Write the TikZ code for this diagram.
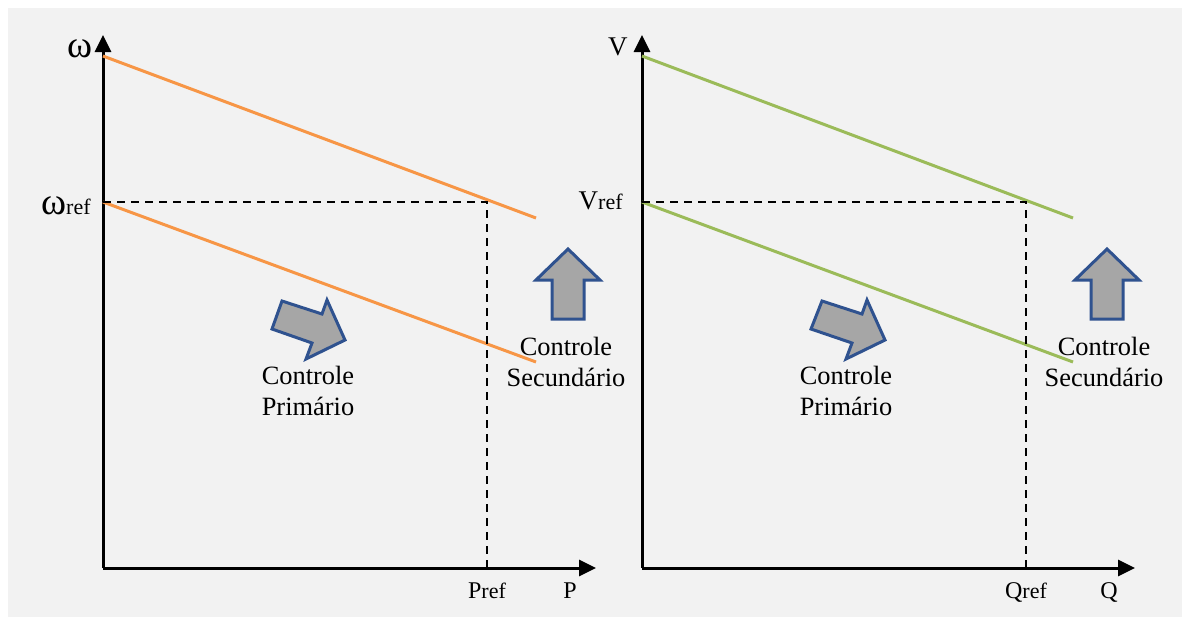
\documentclass[tikz,border=0pt]{standalone}
\usepackage{fontspec}
\setmainfont{Liberation Serif}
\usetikzlibrary{arrows.meta}

\definecolor{droopOrange}{RGB}{247,150,70}
\definecolor{droopGreen}{RGB}{155,187,89}
\definecolor{blockFill}{RGB}{166,166,166}
\definecolor{blockEdge}{RGB}{47,82,143}
\definecolor{panelGray}{RGB}{242,242,242}

\newcommand{\refsub}{{\fontsize{11}{11}\selectfont ref}}

\begin{document}
\begin{tikzpicture}[x=0.5pt, y=-0.5pt, font=\fontsize{13.2}{15.5}\selectfont,
    axis/.style={line width=1.5pt, -{Triangle[length=8.5pt,width=8pt]}},
    guide/.style={line width=0.7pt, dash pattern=on 4pt off 3pt},
    droop/.style={line width=1.5pt},
    blockarrow/.style={fill=blockFill, draw=blockEdge, line width=1.5pt, line join=miter},
    axlabel/.style={inner sep=0pt, font=\fontsize{12}{12}\selectfont},
    caption/.style={align=center, inner sep=0pt}]

    \useasboundingbox (0,0) rectangle (1182,617);
    \fill[white] (0,0) rectangle (1182,617);
    \fill[panelGray] (8,8) rectangle (1182,617);

    % P - omega droop
    \coordinate (o1) at (103,568);
    \coordinate (ytip1) at (103,35);
    \coordinate (xtip1) at (596,568);
    \draw[axis] (o1) -- (ytip1);
    \draw[axis] (o1) -- (xtip1);

    \coordinate (w0) at (103,56);
    \coordinate (w0end) at (536,218);
    \coordinate (wref) at (103,202);
    \coordinate (wrefend) at (536,362);
    \coordinate (wcorner) at (487,202);
    \coordinate (pfoot) at (487,568);
    \draw[droop, droopOrange] (w0) -- (w0end);
    \draw[droop, droopOrange] (wref) -- (wrefend);
    \draw[guide] (wref) -- (wcorner) -- (pfoot);

    \node[axlabel, anchor=east, font=\fontsize{19}{19}\selectfont] (lw) at (93,49) {ω};
    \node[axlabel, anchor=base east] (lwref) at (91,214) {{\fontsize{19}{19}\selectfont ω}\refsub};
    \node[axlabel, anchor=base] (lpref) at (487,598) {P\refsub};
    \node[axlabel, anchor=base] (lp) at (570,598) {P};

    \draw[blockarrow] (282,301) -- (322,314) -- (327,300) -- (345,340) -- (306,359) -- (312,343) -- (272,329) -- cycle;
    \draw[blockarrow] (568,249) -- (600,280) -- (584,280) -- (584,319) -- (552,319) -- (552,280) -- (536,280) -- cycle;
    \node[caption] (prim1) at (308,391) {Controle\\Primário};
    \node[caption] (sec1) at (566,362) {Controle\\Secundário};

    % Q - V droop
    \coordinate (o2) at (642,568);
    \coordinate (ytip2) at (642,35);
    \coordinate (xtip2) at (1135,568);
    \draw[axis] (o2) -- (ytip2);
    \draw[axis] (o2) -- (xtip2);

    \coordinate (v0) at (642,56);
    \coordinate (v0end) at (1073,218);
    \coordinate (vref) at (642,202);
    \coordinate (vrefend) at (1073,362);
    \coordinate (vcorner) at (1026,202);
    \coordinate (qfoot) at (1026,568);
    \draw[droop, droopGreen] (v0) -- (v0end);
    \draw[droop, droopGreen] (vref) -- (vrefend);
    \draw[guide] (vref) -- (vcorner) -- (qfoot);

    \node[axlabel, anchor=base east, font=\fontsize{13.5}{13.5}\selectfont] (lv) at (628,55) {V};
    \node[axlabel, anchor=base east] (lvref) at (623,209) {{\fontsize{13.5}{13.5}\selectfont V}\refsub};
    \node[axlabel, anchor=base] (lqref) at (1026,598) {Q\refsub};
    \node[axlabel, anchor=base] (lq) at (1109,598) {Q};

    \draw[blockarrow] (822,301) -- (862,314) -- (867,300) -- (885,340) -- (846,359) -- (852,343) -- (811,329) -- cycle;
    \draw[blockarrow] (1107,249) -- (1139,280) -- (1123,280) -- (1123,319) -- (1091,319) -- (1091,280) -- (1075,280) -- cycle;
    \node[caption] (prim2) at (846,391) {Controle\\Primário};
    \node[caption] (sec2) at (1104,362) {Controle\\Secundário};
\end{tikzpicture}
\end{document}
